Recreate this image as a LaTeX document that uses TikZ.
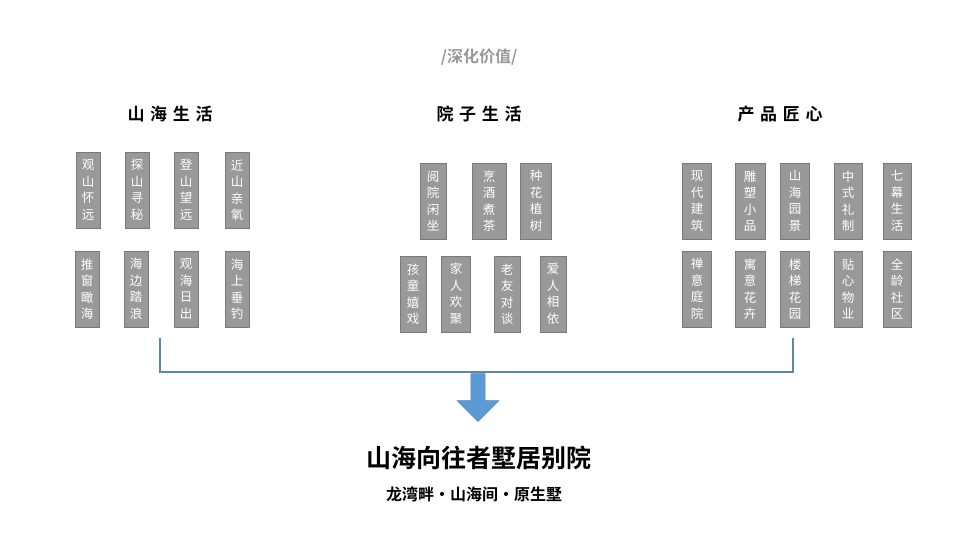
\documentclass[tikz,border=0pt]{standalone}
\usepackage{fontspec}
\newfontfamily\cjk{Noto Sans CJK SC}
\newfontfamily\cjkb{Noto Sans CJK SC Bold}
\usepackage{tikz}
\usetikzlibrary{arrows,positioning,shapes.arrows}
\definecolor{boxgray}{HTML}{999999}
\definecolor{boxline}{HTML}{7A7A7A}
\definecolor{linkblue}{HTML}{5A86B0}
\definecolor{arrowblue}{HTML}{5B9BD5}

\begin{document}
\begin{tikzpicture}[
    x=1pt, y=-1pt,
    item/.style={rectangle, draw=boxline, fill=boxgray, text=white, line width=0.8pt,
        minimum width=26pt, minimum height=76pt, inner sep=1pt, align=center,
        font=\cjk\fontsize{12.5}{16.5}\selectfont},
    head/.style={font=\cjkb\fontsize{17}{20}\selectfont},
    link/.style={draw=linkblue, line width=1.3pt}
]
\useasboundingbox (0,0) rectangle (960,540);

% Titles
\node[font=\cjkb\fontsize{16}{18}\selectfont, text=gray!80] (deep) at (479,57) {/深化价值/};
\node[head] (hill) at (170,114) {山\,\,海\,\,生\,\,活};
\node[head] (yard) at (479,114) {院\,\,子\,\,生\,\,活};
\node[head] (craft) at (780,114) {产\,\,品\,\,匠\,\,心};

% Left group
\node[item, minimum width=24pt] (a1) at (88,190) {观\\山\\怀\\远};
\node[item, minimum width=24pt] (a2) at (137,190) {探\\山\\寻\\秘};
\node[item, minimum width=24pt] (a3) at (186,190) {登\\山\\望\\远};
\node[item, minimum width=24pt] (a4) at (237,190) {近\\山\\亲\\氧};
\node[item, minimum width=24pt] (a5) at (87,289) {推\\窗\\瞰\\海};
\node[item, minimum width=24pt] (a6) at (136,289) {海\\边\\踏\\浪};
\node[item, minimum width=24pt] (a7) at (186,289) {观\\海\\日\\出};
\node[item, minimum width=24pt] (a8) at (237,289) {海\\上\\垂\\钓};

% Middle group
\node[item] (b1) at (433,201) {阅\\院\\闲\\坐};
\node[item, minimum width=34pt] (b2) at (489,201) {烹\\酒\\煮\\茶};
\node[item, minimum width=31pt] (b3) at (536,201) {种\\花\\植\\树};
\node[item] (b4) at (413,294) {孩\\童\\嬉\\戏};
\node[item, minimum width=29pt] (b5) at (456,294) {家\\人\\欢\\聚};
\node[item] (b6) at (507,294) {老\\友\\对\\谈};
\node[item] (b7) at (553,294) {爱\\人\\相\\依};

% Right group
\node[item, minimum width=29pt] (c1) at (697,201) {现\\代\\建\\筑};
\node[item, minimum width=30pt] (c2) at (750,201) {雕\\塑\\小\\品};
\node[item, minimum width=29pt] (c3) at (795,201) {山\\海\\园\\景};
\node[item, minimum width=28pt] (c4) at (848,201) {中\\式\\礼\\制};
\node[item, minimum width=28pt] (c5) at (897,201) {七\\幕\\生\\活};
\node[item, minimum width=29pt] (c6) at (697,289) {禅\\意\\庭\\院};
\node[item, minimum width=30pt] (c7) at (750,289) {寓\\意\\花\\卉};
\node[item, minimum width=29pt] (c8) at (795,289) {楼\\梯\\花\\园};
\node[item, minimum width=28pt] (c9) at (848,289) {贴\\心\\物\\业};
\node[item, minimum width=28pt] (c10) at (897,289) {全\\龄\\社\\区};

% Bracket and arrow
\coordinate (bl) at (160,338);
\coordinate (br) at (793,338);
\draw[link] (bl) -- (160,372) -- (793,372) -- (br);
\node[single arrow, shape border rotate=270, fill=arrowblue, draw=linkblue,
    minimum width=42pt, single arrow head extend=10pt, minimum height=48pt,
    inner sep=5pt] (down) at (478,394) {};

% Result
\node[font=\cjkb\fontsize{25}{28}\selectfont] (home) at (479,458) {山海向往者墅居别院};
\node[font=\cjkb\fontsize{16}{18}\selectfont] (place) at (474,494) {龙湾畔·山海间·原生墅};

\end{tikzpicture}
\end{document}
